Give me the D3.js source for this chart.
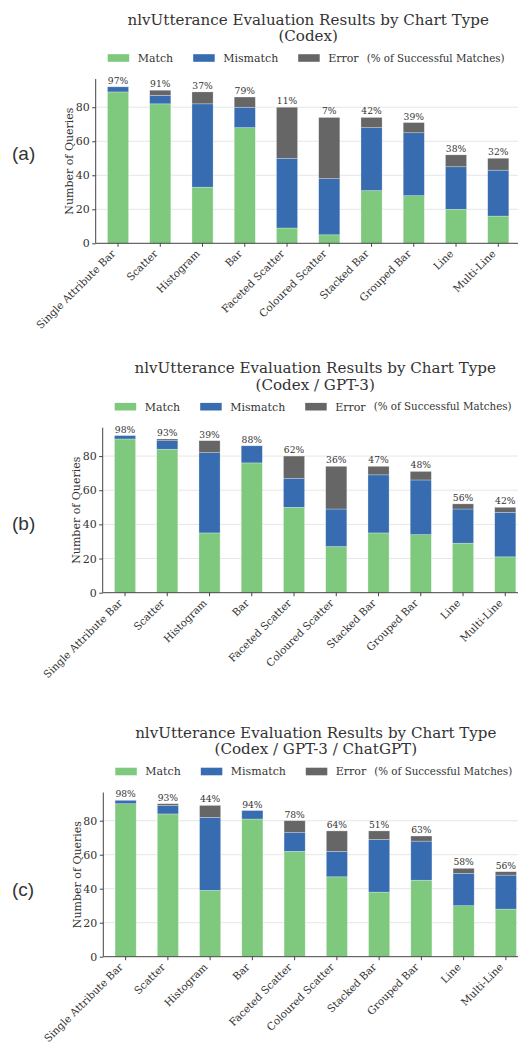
<!DOCTYPE html>
<html>
<head>
<meta charset="utf-8">
<script src="https://cdn.jsdelivr.net/npm/d3@7"></script>
<style>
  body { margin: 0; background: #fff; }
  text { font-family: "DejaVu Serif", serif; fill: #333; }
</style>
</head>
<body>
<svg id="fig" width="518" height="1044"></svg>
<script>
const categories = ["Single Attribute Bar", "Scatter", "Histogram", "Bar", "Faceted Scatter",
  "Coloured Scatter", "Stacked Bar", "Grouped Bar", "Line", "Multi-Line"]
const yTicks = [0, 20, 40, 60, 80]

// (a) Codex
const matchA = [89, 82, 33, 68, 9, 5, 31, 28, 20, 16]
const mismatchA = [3, 5, 49, 12, 41, 33, 37, 37, 25, 27]
const errorA = [0, 3, 7, 6, 30, 36, 6, 6, 7, 7]
const pctA = ["97%", "91%", "37%", "79%", "11%", "7%", "42%", "39%", "38%", "32%"]

// (b) Codex / GPT-3
const matchB = [90, 84, 35, 76, 50, 27, 35, 34, 29, 21]
const mismatchB = [2, 5, 47, 10, 17, 22, 34, 32, 20, 26]
const errorB = [0, 1, 7, 0, 13, 25, 5, 5, 3, 3]
const pctB = ["98%", "93%", "39%", "88%", "62%", "36%", "47%", "48%", "56%", "42%"]

// (c) Codex / GPT-3 / ChatGPT
const matchC = [90, 84, 39, 81, 62, 47, 38, 45, 30, 28]
const mismatchC = [2, 5, 43, 5, 11, 15, 31, 23, 19, 20]
const errorC = [0, 1, 7, 0, 7, 12, 5, 3, 3, 2]
const pctC = ["98%", "93%", "44%", "94%", "78%", "64%", "51%", "63%", "58%", "56%"]

const keys = ["Match", "Mismatch", "Error"]
const colors = {Match: "#7fc97f", Mismatch: "#386cb0", Error: "#666666"}

const panels = [
  {tag: "(a)", sub: "(Codex)", match: matchA, mismatch: mismatchA, error: errorA, pct: pctA,
   left: 95.7, top: 79, bottom: 243.3, tagY: 153},
  {tag: "(b)", sub: "(Codex / GPT-3)", match: matchB, mismatch: mismatchB, error: errorB, pct: pctB,
   left: 102.7, top: 427.7, bottom: 592.7, tagY: 523},
  {tag: "(c)", sub: "(Codex / GPT-3 / ChatGPT)", match: matchC, mismatch: mismatchC, error: errorC, pct: pctC,
   left: 103.3, top: 792.5, bottom: 956.7, tagY: 889}
]

const svg = d3.select("#fig")
const step = 42.25

panels.forEach(p => {
  const g = svg.append("g")

  const rows = categories.map((c, i) => ({
    cat: c, Match: p.match[i], Mismatch: p.mismatch[i], Error: p.error[i], pct: p.pct[i]
  }))
  const total = d => d.Match + d.Mismatch + d.Error

  const x = d3.scaleBand()
    .domain(categories)
    .range([p.left + 1.2, p.left + 1.2 + 10 * step])
    .paddingInner(0.5)
    .paddingOuter(0.25)

  const y = d3.scaleLinear()
    .domain([0, d3.max(rows, total) * 1.05])
    .range([p.bottom, p.top])

  // grid
  g.selectAll("line.grid")
    .data(yTicks.slice(1))
    .enter()
    .append("line")
    .attr("x1", p.left).attr("x2", 518)
    .attr("y1", d => y(d)).attr("y2", d => y(d))
    .attr("stroke", "#e6e6e6").attr("stroke-width", 1)

  // stacked bars
  const series = d3.stack().keys(keys)(rows)
  g.selectAll("g.layer")
    .data(series)
    .enter()
    .append("g")
    .attr("fill", d => colors[d.key])
    .selectAll("rect")
    .data(d => d)
    .enter()
    .append("rect")
    .attr("x", d => x(d.data.cat))
    .attr("width", x.bandwidth())
    .attr("y", d => y(d[1]))
    .attr("height", d => y(d[0]) - y(d[1]))
    .attr("stroke", "rgba(255,255,255,0.45)")
    .attr("stroke-width", 0.6)

  // percent labels
  g.selectAll("text.pct")
    .data(rows)
    .enter()
    .append("text")
    .attr("x", d => x(d.cat) + x.bandwidth() / 2)
    .attr("y", d => y(total(d)) - 3)
    .attr("text-anchor", "middle")
    .attr("font-size", 9.2)
    .text(d => d.pct)

  // axes
  const yAxis = g.append("g")
    .attr("transform", "translate(" + p.left + ",0)")
    .call(d3.axisLeft(y).tickValues(yTicks).tickSize(3.5).tickPadding(2.5))
  const xAxis = g.append("g")
    .attr("transform", "translate(0," + p.bottom + ")")
    .call(d3.axisBottom(x).tickSize(3.5).tickPadding(2))
  ;[yAxis, xAxis].forEach(a => {
    a.select(".domain").remove()
    a.selectAll(".tick line").attr("stroke", "#444")
    a.selectAll("text").attr("font-size", 11).attr("font-family", "DejaVu Serif").attr("fill", "#333")
  })
  xAxis.selectAll(".tick text")
    .attr("text-anchor", "end")
    .attr("font-size", 10.4)
    .attr("dy", 0)
    .attr("transform", "translate(-2,11) rotate(-45)")
    .attr("y", 0).attr("x", 0)

  g.append("line")
    .attr("x1", p.left).attr("x2", p.left)
    .attr("y1", p.top).attr("y2", p.bottom)
    .attr("stroke", "#444").attr("stroke-width", 1)
  g.append("line")
    .attr("x1", p.left).attr("x2", 518)
    .attr("y1", p.bottom).attr("y2", p.bottom)
    .attr("stroke", "#444").attr("stroke-width", 1)

  // y label
  g.append("text")
    .attr("transform", "translate(" + (p.left - 26.5) + "," + ((p.top + p.bottom) / 2) + ") rotate(-90)")
    .attr("text-anchor", "middle")
    .attr("dy", "0.35em")
    .attr("font-size", 11)
    .text("Number of Queries")

  // title
  const cx = p.left + 212.5
  g.append("text")
    .attr("x", cx).attr("y", p.top - 54.5)
    .attr("text-anchor", "middle")
    .attr("font-size", 15.1)
    .attr("fill", "#222")
    .text("nlvUtterance Evaluation Results by Chart Type")
  g.append("text")
    .attr("x", cx).attr("y", p.top - 38.2)
    .attr("text-anchor", "middle")
    .attr("font-size", 15.1)
    .attr("fill", "#222")
    .text(p.sub)

  // legend
  const ly = p.top - 21
  const legendX = [12, 97.5, 202.5]
  keys.forEach((k, i) => {
    const lx = p.left + legendX[i]
    g.append("rect")
      .attr("x", lx).attr("y", ly - 3.8)
      .attr("width", 21.5).attr("height", 7.6)
      .attr("fill", colors[k])
    g.append("text")
      .attr("x", lx + 30).attr("y", ly)
      .attr("dy", "0.35em")
      .attr("font-size", 11)
      .text(k)
  })
  g.append("text")
    .attr("x", p.left + 271).attr("y", ly)
    .attr("dy", "0.35em")
    .attr("font-size", 10.3)
    .text("(% of Successful Matches)")

  // panel tag
  svg.append("text")
    .attr("x", 12).attr("y", p.tagY)
    .attr("dy", "0.35em")
    .attr("font-size", 19)
    .style("font-family", "'Liberation Sans', Arial, sans-serif")
    .attr("fill", "#111")
    .text(p.tag)
})
</script>
</body>
</html>
